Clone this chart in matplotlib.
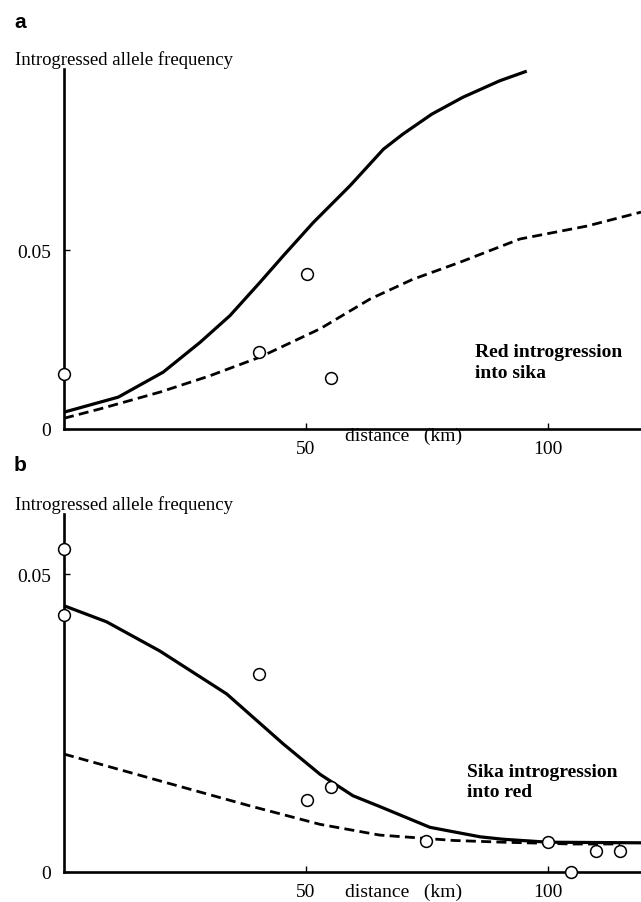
import matplotlib
matplotlib.use("Agg")
import matplotlib.pyplot as plt

plt.rcParams['font.family'] = ['Liberation Serif', 'DejaVu Serif']

# ---- Panel a: Red introgression into sika ----
a_fit_solid_x = [0, 11.2, 20.5, 28.1, 34.3, 40.5, 45.3, 51.5, 59.1, 66.0, 70, 76, 82.4, 90, 95.6]
a_fit_solid_y = [0.0047, 0.0089, 0.0159, 0.0242, 0.0317, 0.041, 0.0484, 0.0577, 0.068, 0.0782, 0.0824, 0.088, 0.0927, 0.0973, 0.1]
a_fit_dash_x = [0, 7.4, 19.8, 30.0, 40.5, 52.9, 63.2, 72.0, 81.8, 94.2, 108, 119.2]
a_fit_dash_y = [0.003, 0.0056, 0.0103, 0.0148, 0.0201, 0.028, 0.0363, 0.0418, 0.0466, 0.0531, 0.0567, 0.0606]
a_obs_x = [0, 40.3, 50.1, 55.2]
a_obs_y = [0.0154, 0.0216, 0.0434, 0.0142]

# ---- Panel b: Sika introgression into red ----
b_fit_solid_x = [0, 8.8, 19.8, 33.6, 45.3, 52.9, 59.7, 65.2, 75.6, 86.0, 90.7, 100, 119.2]
b_fit_solid_y = [0.0447, 0.042, 0.0371, 0.0299, 0.0215, 0.0164, 0.0128, 0.011, 0.0075, 0.0059, 0.0055, 0.005, 0.0049]
b_fit_dash_x = [0, 19.8, 38.4, 52.9, 65.2, 80.4, 90.7, 105, 114.9]
b_fit_dash_y = [0.0198, 0.0153, 0.0111, 0.008, 0.0062, 0.0053, 0.005, 0.0047, 0.0047]
b_obs_x = [0, 0, 40.3, 50.1, 55.2, 74.7, 100, 104.7, 109.9, 114.9]
b_obs_y = [0.0542, 0.0432, 0.0333, 0.0121, 0.0142, 0.0052, 0.0051, 0.0, 0.0036, 0.0036]

x_ticks = [50, 100]
x_ticklabels = ['50', '100']
ylabel = 'Introgressed allele frequency'
xlabel = 'distance   (km)'

W, H = 641, 903
fig = plt.figure(figsize=(W / 100, H / 100), dpi=100)


def fx(px):
    return px / W


def fy(py):
    return 1 - py / H


def make_panel(rect, ymax, sx, sy, dx, dy, ox, oy, ytick_labels):
    ax = fig.add_axes(rect)
    ax.plot(sx, sy, color='black', lw=2.3, solid_capstyle='butt', solid_joinstyle='round', clip_on=False)
    ax.plot(dx, dy, color='black', lw=2.0, dashes=(3.6, 1.9), clip_on=False)
    ax.plot(ox, oy, 'o', ms=8.5, mfc='white', mec='black', mew=1.1, clip_on=False, zorder=5)
    ax.set_xlim(0, 119.2)
    ax.set_ylim(0, ymax)
    for s in ['top', 'right']:
        ax.spines[s].set_visible(False)
    for s in ['left', 'bottom']:
        ax.spines[s].set_linewidth(1.9)
    ax.set_xticks(x_ticks)
    ax.set_xticklabels(x_ticklabels)
    ax.set_yticks([0, 0.05])
    ax.set_yticklabels(ytick_labels)
    ax.tick_params(axis='both', direction='in', length=4, width=1.0, labelsize=14, pad=8)
    ax.tick_params(axis='y', pad=9)
    ax.patch.set_alpha(0)
    return ax


# top panel: x axis at y=430, top at 70
ax1 = make_panel([fx(64), fy(430), 1 - fx(64), (430 - 70) / H], 0.1006,
                 a_fit_solid_x, a_fit_solid_y, a_fit_dash_x, a_fit_dash_y,
                 a_obs_x, a_obs_y, ['0', '0.05'])
# bottom panel: x axis at y=873, top at 515
ax2 = make_panel([fx(64), fy(873), 1 - fx(64), (873 - 515) / H], 0.0601,
                 b_fit_solid_x, b_fit_solid_y, b_fit_dash_x, b_fit_dash_y,
                 b_obs_x, b_obs_y, ['0', '0.05'])

# panel letters
fig.text(fx(14), fy(23), 'a', fontsize=15, fontweight='bold', family=['Liberation Sans', 'DejaVu Sans'],
         ha='left', va='center')
fig.text(fx(14), fy(466), 'b', fontsize=15, fontweight='bold', family=['Liberation Sans', 'DejaVu Sans'],
         ha='left', va='center')

# y labels
fig.text(fx(15), fy(60), ylabel, fontsize=13.5, ha='left', va='center')
fig.text(fx(15), fy(505), ylabel, fontsize=13.5, ha='left', va='center')

# x labels
fig.text(fx(403.5), fy(436), xlabel, fontsize=14, ha='center', va='center')
fig.text(fx(403.5), fy(892), xlabel, fontsize=14, ha='center', va='center')

# annotations
fig.text(fx(475), fy(344), 'Red introgression\ninto sika', fontsize=14, fontweight='bold',
         ha='left', va='top', linespacing=1.28)
fig.text(fx(467), fy(764), 'Sika introgression\ninto red', fontsize=14, fontweight='bold',
         ha='left', va='top', linespacing=1.22)

fig.savefig('out.png', dpi=100)
